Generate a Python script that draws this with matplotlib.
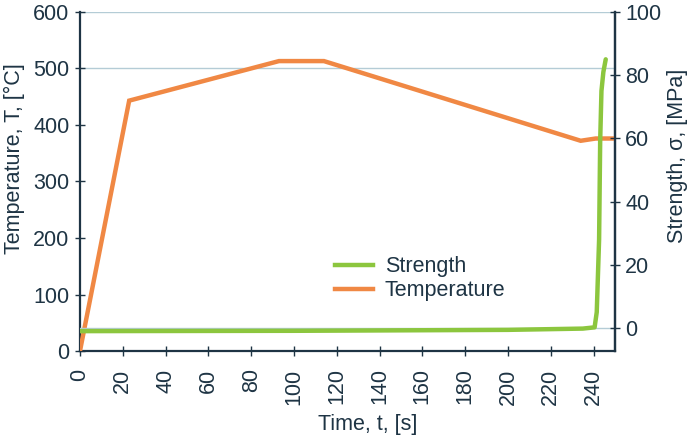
import matplotlib
matplotlib.use('Agg')
import matplotlib.pyplot as plt

plt.rcParams['font.family'] = ['Liberation Sans', 'DejaVu Sans']

# temperature profile
TEMP_TIME = [0, 23, 93, 114, 234, 241, 250]
TEMP_VALUES = [0, 443, 513, 513, 372, 376, 376]

# strength, flat then a sharp rise at the end
STRENGTH_TIME = [0, 100, 200, 235, 240.5, 241.5, 242.6, 243.1, 243.7, 244.6, 245.7]
STRENGTH_VALUES = [-1.0, -0.9, -0.6, -0.2, 0.2, 5, 28, 59, 75, 81, 85]

X_TICKS = list(range(0, 241, 20))
LEFT_TICKS = list(range(0, 601, 100))
RIGHT_TICKS = list(range(0, 101, 20))

ORANGE = '#F08844'
GREEN = '#8CC63E'
TEXT = '#1E3444'
GRID = '#B4CCD6'
FS = 15.5
OUTPUT_IMAGE = 'out.png'


def main():
    fig = plt.figure(figsize=(6.87, 4.41), dpi=100)
    ax = fig.add_axes([0.1164, 0.204, 0.7787, 0.769])
    ax2 = ax.twinx()

    ax.set_xlim(0, 250)
    ax.set_ylim(0, 600)
    ax2.set_ylim(-7.3, 100)

    # gridlines
    for y in (500, 600):
        ax.axhline(y, color=GRID, lw=1.0, zorder=0)
    ax2.axhline(0, color=GRID, lw=1.0, zorder=0)

    ax.plot(TEMP_TIME, TEMP_VALUES, color=ORANGE, lw=3.2,
            solid_joinstyle='miter', zorder=3)
    ax2.plot(STRENGTH_TIME, STRENGTH_VALUES, color=GREEN, lw=3.2,
             solid_capstyle='round', zorder=3)

    ax.set_xticks(X_TICKS)
    ax.set_xticklabels([str(t) for t in X_TICKS], rotation=90)
    ax.set_yticks(LEFT_TICKS)
    ax2.set_yticks(RIGHT_TICKS)

    for a in (ax, ax2):
        a.tick_params(direction='inout', length=7, width=1.0, colors=TEXT,
                      labelsize=FS, pad=4)
        for side in ('left', 'right', 'bottom'):
            a.spines[side].set_color(TEXT)
            a.spines[side].set_linewidth(1.6)
        a.spines['top'].set_visible(False)
    ax.tick_params(axis='x', pad=9)
    ax2.spines['left'].set_visible(False)
    ax2.spines['bottom'].set_visible(False)

    ax.set_xlabel('Time, t, [s]', fontsize=FS, color=TEXT)
    ax.set_ylabel('Temperature, T, [°C]', fontsize=FS, color=TEXT)
    ax2.set_ylabel('Strength, σ, [MPa]', fontsize=FS, color=TEXT,
                   rotation=90)
    ax.xaxis.set_label_coords(0.538, -0.186)
    ax.yaxis.set_label_coords(-0.103, 0.566)
    ax2.yaxis.set_label_coords(1.097, 0.575)

    # legend drawn with proxy lines so the order matches the reference
    h1, = ax.plot([], [], color=GREEN, lw=3.2)
    h2, = ax.plot([], [], color=ORANGE, lw=3.2)
    ax.legend([h1, h2], ['Strength', 'Temperature'], loc='upper left',
              bbox_to_anchor=(0.477, 0.28), frameon=False, fontsize=FS,
              handlelength=1.75, handletextpad=0.55, labelspacing=0.15,
              borderpad=0, borderaxespad=0, labelcolor=TEXT)

    fig.savefig(OUTPUT_IMAGE, dpi=100)


if __name__ == '__main__':
    main()
